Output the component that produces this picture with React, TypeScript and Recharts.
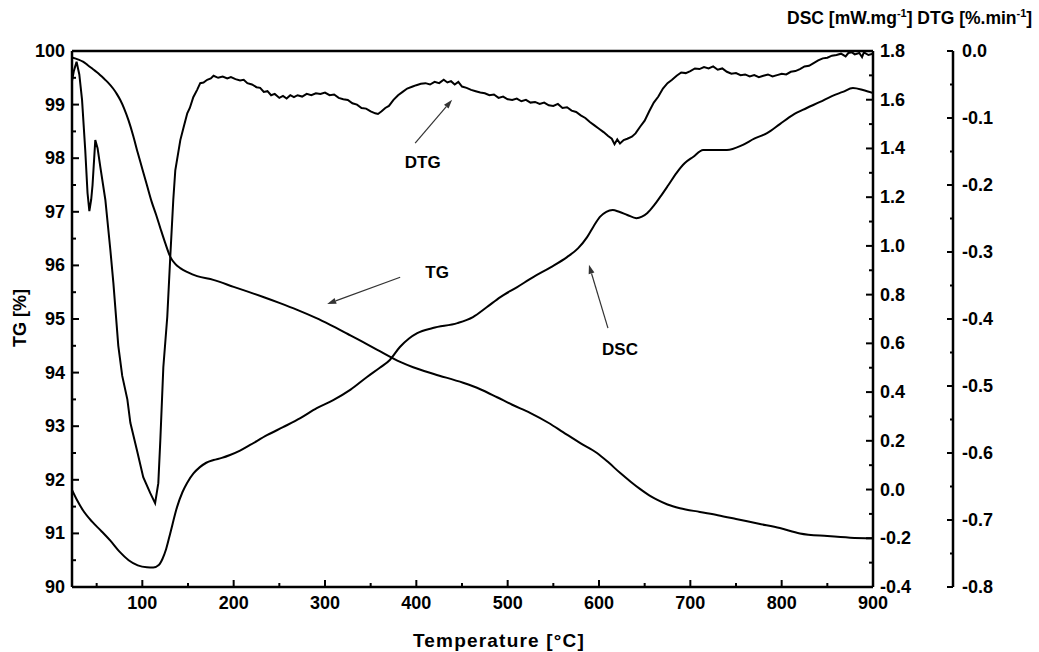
import React from "react";
import {
  ComposedChart,
  Line,
  XAxis,
  YAxis,
  ReferenceLine,
  ReferenceDot,
  Customized,
} from "recharts";

const FONT = '"Liberation Sans", Arial, Helvetica, sans-serif';

// TG [%] (left axis)
const tgTemp = [
  23, 30, 35, 40, 46, 52, 57, 62, 68, 72, 76, 80, 85, 90, 95, 100, 105, 110, 115, 120, 125,
  130.6, 136, 141.5, 150, 160, 177.7, 200, 232.4, 250, 269.6, 290, 305.7, 325, 341.8, 360,
  382.3, 396.5, 420, 451.2, 470, 488.4, 505, 524.5, 545, 560.6, 580, 597.8, 610, 623, 635,
  644.8, 655, 663.4, 675, 688.6, 710.5, 730, 750, 775, 798, 820, 850, 875, 900,
];
const tgValues = [
  99.88, 99.84, 99.8, 99.74, 99.66, 99.58, 99.5, 99.42, 99.3, 99.2, 99.08, 98.93, 98.7,
  98.42, 98.1, 97.8, 97.5, 97.2, 96.95, 96.68, 96.42, 96.16, 96.03, 95.95, 95.87, 95.8,
  95.73, 95.6, 95.41, 95.3, 95.17, 95.02, 94.89, 94.72, 94.57, 94.4, 94.2, 94.1, 93.97,
  93.81, 93.69, 93.54, 93.4, 93.25, 93.06, 92.89, 92.68, 92.5, 92.33, 92.13, 91.96, 91.83,
  91.71, 91.63, 91.54, 91.47, 91.4, 91.34, 91.27, 91.18, 91.1, 91.0, 90.95, 90.92, 90.91,
];

// DSC [mW/mg] (first right axis)
const dscTemp = [
  23, 28, 35, 45, 55, 65, 75, 85, 95, 105, 112, 118, 122, 126, 130.6, 138, 144, 149, 156,
  163, 170, 178, 187, 196, 207, 218, 237, 254, 273, 291, 309, 328, 346, 360, 371, 382, 392,
  401, 418, 445, 462, 477, 492, 510, 528, 547, 565, 577, 587, 594, 601, 608, 615, 622, 631,
  641, 647, 653, 660, 667, 676, 685, 694, 703, 714, 727, 740, 757, 770, 784, 798, 812, 827,
  842, 855, 867, 878, 889, 900,
];
const dscValues = [
  -0.002, -0.04, -0.085, -0.132, -0.17, -0.21, -0.255, -0.29, -0.311, -0.319, -0.32, -0.31,
  -0.285, -0.245, -0.179, -0.072, -0.01, 0.027, 0.066, 0.092, 0.11, 0.121, 0.13, 0.142, 0.16,
  0.183, 0.224, 0.256, 0.293, 0.334, 0.367, 0.41, 0.462, 0.5, 0.532, 0.585, 0.62, 0.642,
  0.663, 0.683, 0.708, 0.748, 0.79, 0.83, 0.872, 0.912, 0.954, 0.99, 1.036, 1.08, 1.119, 1.14,
  1.147, 1.14, 1.127, 1.114, 1.12, 1.135, 1.165, 1.201, 1.25, 1.3, 1.34, 1.365, 1.394, 1.394,
  1.394, 1.414, 1.44, 1.463, 1.5, 1.537, 1.565, 1.591, 1.615, 1.632, 1.648, 1.64, 1.627,
];

// DTG [%/min] (second right axis)
const dtgTemp = [
  23, 25, 28, 31, 34, 37.5, 40, 42, 44, 45.5, 48.5, 51, 54, 59.5, 65, 68.3, 73.7, 78, 83.6,
  86.9, 94.5, 101, 108.7, 114, 117.5, 119.7, 123, 127.3, 130.6, 133.9, 136.1, 141.6, 145,
  149.2, 152, 155.8, 160, 163.4, 167, 171, 175, 178, 183, 188, 193, 197, 202, 207, 211, 215,
  220, 225, 229, 233, 237, 241, 245, 250, 254, 258, 262, 266, 270, 275, 280, 285, 290, 295,
  300, 305, 310, 315, 320, 325, 330, 335, 340, 345, 350, 355, 358, 362, 366, 370, 375, 380,
  385, 390, 396, 400, 405, 410, 415, 420, 425, 430, 434, 438, 442, 446, 450, 455, 460, 465,
  470, 475, 480, 485, 490, 495, 500, 505, 510, 515, 520, 525, 530, 535, 540, 545, 550, 555,
  560, 565, 570, 575, 580, 585, 590, 595, 600, 605, 610, 614, 617, 620, 623, 627, 631, 636,
  640, 645, 650, 655, 660, 665, 670, 675, 680, 685, 690, 695, 700, 705, 710, 715, 720, 725,
  730, 735, 740, 745, 750, 755, 760, 765, 770, 775, 780, 785, 790, 795, 800, 805, 810, 815,
  820, 825, 830, 835, 840, 845, 850, 855, 860, 865, 870, 873, 877, 880, 885, 888, 890, 895,
  900,
];
const dtgValues = [
  -0.045, -0.03, -0.016, -0.035, -0.073, -0.148, -0.212, -0.239, -0.222, -0.2, -0.133,
  -0.145, -0.173, -0.222, -0.297, -0.346, -0.44, -0.485, -0.52, -0.555, -0.598, -0.636,
  -0.66, -0.675, -0.645, -0.581, -0.472, -0.397, -0.307, -0.222, -0.178, -0.133, -0.115,
  -0.093, -0.085, -0.069, -0.058, -0.048, -0.047, -0.043, -0.041, -0.037, -0.04, -0.038,
  -0.041, -0.039, -0.042, -0.044, -0.043, -0.048, -0.05, -0.054, -0.055, -0.061, -0.06,
  -0.066, -0.064, -0.07, -0.067, -0.071, -0.066, -0.069, -0.066, -0.068, -0.064, -0.066,
  -0.063, -0.064, -0.062, -0.066, -0.065, -0.07, -0.072, -0.073, -0.078, -0.08, -0.085,
  -0.086, -0.09, -0.093, -0.094, -0.09, -0.085, -0.082, -0.073, -0.066, -0.061, -0.056,
  -0.053, -0.051, -0.049, -0.048, -0.05, -0.046, -0.048, -0.043, -0.047, -0.045, -0.05,
  -0.046, -0.053, -0.055, -0.058, -0.06, -0.062, -0.063, -0.066, -0.065, -0.07, -0.068,
  -0.072, -0.073, -0.071, -0.075, -0.073, -0.077, -0.076, -0.079, -0.077, -0.081, -0.082,
  -0.079, -0.085, -0.084, -0.089, -0.091, -0.096, -0.1, -0.106, -0.111, -0.116, -0.121,
  -0.127, -0.131, -0.139, -0.132, -0.138, -0.133, -0.131, -0.128, -0.123, -0.113, -0.104,
  -0.09, -0.077, -0.068, -0.056, -0.048, -0.043, -0.037, -0.032, -0.033, -0.03, -0.026,
  -0.027, -0.024, -0.026, -0.023, -0.028, -0.026, -0.031, -0.034, -0.033, -0.036, -0.035,
  -0.038, -0.036, -0.039, -0.037, -0.035, -0.038, -0.036, -0.034, -0.035, -0.031, -0.03,
  -0.027, -0.023, -0.022, -0.018, -0.014, -0.011, -0.01, -0.007, -0.006, -0.004, -0.008,
  -0.003, -0.002, -0.005, -0.003, -0.009, -0.002, -0.006, -0.004,
];

const xTicks = [
  50, 100, 150, 200, 250, 300, 350, 400, 450, 500, 550, 600, 650, 700, 750, 800, 850, 900,
];
const tgTicks = [
  90, 90.5, 91, 91.5, 92, 92.5, 93, 93.5, 94, 94.5, 95, 95.5, 96, 96.5, 97, 97.5, 98, 98.5,
  99, 99.5, 100,
];
const dscTicks = [
  -0.4, -0.3, -0.2, -0.1, 0, 0.1, 0.2, 0.3, 0.4, 0.5, 0.6, 0.7, 0.8, 0.9, 1.0, 1.1, 1.2, 1.3,
  1.4, 1.5, 1.6, 1.7, 1.8,
];
const dtgTicks = [
  0, -0.05, -0.1, -0.15, -0.2, -0.25, -0.3, -0.35, -0.4, -0.45, -0.5, -0.55, -0.6, -0.65,
  -0.7, -0.75, -0.8,
];

const tgData = tgTemp.map((t, i) => ({ t, v: tgValues[i] }));
const dscData = dscTemp.map((t, i) => ({ t, v: dscValues[i] }));
const dtgData = dtgTemp.map((t, i) => ({ t, v: dtgValues[i] }));

const labelStyle = { fontFamily: FONT, fontWeight: 700, fontSize: 18, fill: "#000" };

function XTick({ x, y, payload }: any) {
  const v = payload.value;
  const major = Math.round(v) % 100 === 0;
  return (
    <g>
      <line x1={x} x2={x} y1={y} y2={y - (major ? 7 : 4)} stroke="#000" strokeWidth={2} />
      {major && (
        <text x={x} y={y + 22} textAnchor="middle" style={labelStyle}>
          {v}
        </text>
      )}
    </g>
  );
}

function TgTick({ x, y, payload }: any) {
  const v = payload.value;
  const major = Number.isInteger(v);
  return (
    <g>
      <line x1={x} x2={x + (major ? 7 : 4)} y1={y} y2={y} stroke="#000" strokeWidth={2} />
      {major && (
        <text x={x - 7} y={y + 6} textAnchor="end" style={labelStyle}>
          {v}
        </text>
      )}
    </g>
  );
}

function DscTick({ x, y, payload }: any) {
  const v = payload.value;
  const major = Math.round(Math.abs(v) * 10) % 2 === 0;
  return (
    <g>
      <line x1={x} x2={x - (major ? 7 : 4)} y1={y} y2={y} stroke="#000" strokeWidth={2} />
      {major && (
        <text x={x + 7} y={y + 6} textAnchor="start" style={labelStyle}>
          {v.toFixed(1)}
        </text>
      )}
    </g>
  );
}

function DtgTick({ x, y, payload }: any) {
  const v = payload.value;
  const major = Math.round(Math.abs(v) * 100) % 10 === 0;
  return (
    <g>
      <line x1={x} x2={x - (major ? 6 : 3)} y1={y} y2={y} stroke="#000" strokeWidth={2} />
      {major && (
        <text x={x + 9} y={y + 6} textAnchor="start" style={labelStyle}>
          {v.toFixed(1)}
        </text>
      )}
    </g>
  );
}

function Arrow(props: any) {
  const { x1, y1, x2, y2 } = props;
  const a = Math.atan2(y2 - y1, x2 - x1);
  const len = 9;
  const w = 3;
  const bx = x2 - len * Math.cos(a);
  const by = y2 - len * Math.sin(a);
  const px = -Math.sin(a) * w;
  const py = Math.cos(a) * w;
  return (
    <g>
      <line x1={x1} y1={y1} x2={bx} y2={by} stroke="#333" strokeWidth={1.2} />
      <polygon points={`${x2},${y2} ${bx + px},${by + py} ${bx - px},${by - py}`} fill="#333" />
    </g>
  );
}

function Note(text: string) {
  return (props: any) => (
    <text
      x={props.cx}
      y={props.cy + 6}
      textAnchor="middle"
      style={{ ...labelStyle, fontSize: 17 }}
    >
      {text}
    </text>
  );
}

function Titles() {
  return (
    <g>
      <text
        x={499}
        y={647}
        textAnchor="middle"
        style={{ ...labelStyle, fontSize: 19, letterSpacing: 1.2 }}
      >
        Temperature [°C]
      </text>
      <text x={26} y={318} textAnchor="middle" transform="rotate(-90 26 318)" style={labelStyle}>
        TG [%]
      </text>
      <text x={787} y={24} style={{ ...labelStyle, fontSize: 17.5 }}>
        DSC [mW.mg
        <tspan dy={-7} fontSize={11}>-1</tspan>
        <tspan dy={7}>] DTG [%.min</tspan>
        <tspan dy={-7} fontSize={11}>-1</tspan>
        <tspan dy={7}>]</tspan>
      </text>
    </g>
  );
}

export default function App() {
  return (
    <div style={{ position: "absolute", left: 0, top: 0, background: "#fff" }}>
      <ComposedChart
        width={1039}
        height={652}
        margin={{ top: 51, right: 0, bottom: 15, left: 0 }}
      >
        <XAxis
          type="number"
          dataKey="t"
          domain={[23, 900]}
          ticks={xTicks}
          interval={0}
          allowDataOverflow
          height={50}
          tickSize={0}
          tickMargin={0}
          tickLine={false}
          axisLine={{ stroke: "#000", strokeWidth: 2.5 }}
          tick={<XTick />}
        />
        <YAxis
          yAxisId="tg"
          type="number"
          domain={[90, 100]}
          ticks={tgTicks}
          interval={0}
          allowDataOverflow
          width={72}
          tickSize={0}
          tickMargin={0}
          tickLine={false}
          axisLine={{ stroke: "#000", strokeWidth: 2.5 }}
          tick={<TgTick />}
        />
        <YAxis
          yAxisId="dsc"
          orientation="right"
          type="number"
          domain={[-0.4, 1.8]}
          ticks={dscTicks}
          interval={0}
          allowDataOverflow
          width={80}
          tickSize={0}
          tickMargin={0}
          tickLine={false}
          axisLine={{ stroke: "#000", strokeWidth: 2.5 }}
          tick={<DscTick />}
        />
        <YAxis
          yAxisId="dtg"
          orientation="right"
          type="number"
          domain={[-0.8, 0]}
          ticks={dtgTicks}
          interval={0}
          allowDataOverflow
          width={86}
          tickSize={0}
          tickMargin={0}
          tickLine={false}
          axisLine={{ stroke: "#000", strokeWidth: 2.5 }}
          tick={<DtgTick />}
        />
        <ReferenceLine yAxisId="tg" y={100} stroke="#000" strokeWidth={2.5} />
        <Line
          yAxisId="tg"
          data={tgData}
          dataKey="v"
          type="monotone"
          stroke="#000"
          strokeWidth={2}
          dot={false}
          activeDot={false}
          isAnimationActive={false}
        />
        <Line
          yAxisId="dsc"
          data={dscData}
          dataKey="v"
          type="monotone"
          stroke="#000"
          strokeWidth={2}
          dot={false}
          activeDot={false}
          isAnimationActive={false}
        />
        <Line
          yAxisId="dtg"
          data={dtgData}
          dataKey="v"
          type="linear"
          stroke="#000"
          strokeWidth={2}
          dot={false}
          activeDot={false}
          isAnimationActive={false}
        />
        <ReferenceLine
          yAxisId="tg"
          segment={[{ x: 398.7, y: 98.28 }, { x: 439.2, y: 99.09 }]}
          shape={Arrow}
        />
        <ReferenceLine
          yAxisId="tg"
          segment={[{ x: 382.3, y: 95.78 }, { x: 302.4, y: 95.28 }]}
          shape={Arrow}
        />
        <ReferenceLine
          yAxisId="tg"
          segment={[{ x: 609.8, y: 94.83 }, { x: 589, y: 96.01 }]}
          shape={Arrow}
        />
        <ReferenceDot yAxisId="tg" x={407} y={97.93} r={0} shape={Note("DTG")} />
        <ReferenceDot yAxisId="tg" x={422.7} y={95.88} r={0} shape={Note("TG")} />
        <ReferenceDot yAxisId="tg" x={623} y={94.44} r={0} shape={Note("DSC")} />
        <Customized component={Titles} />
      </ComposedChart>
    </div>
  );
}
